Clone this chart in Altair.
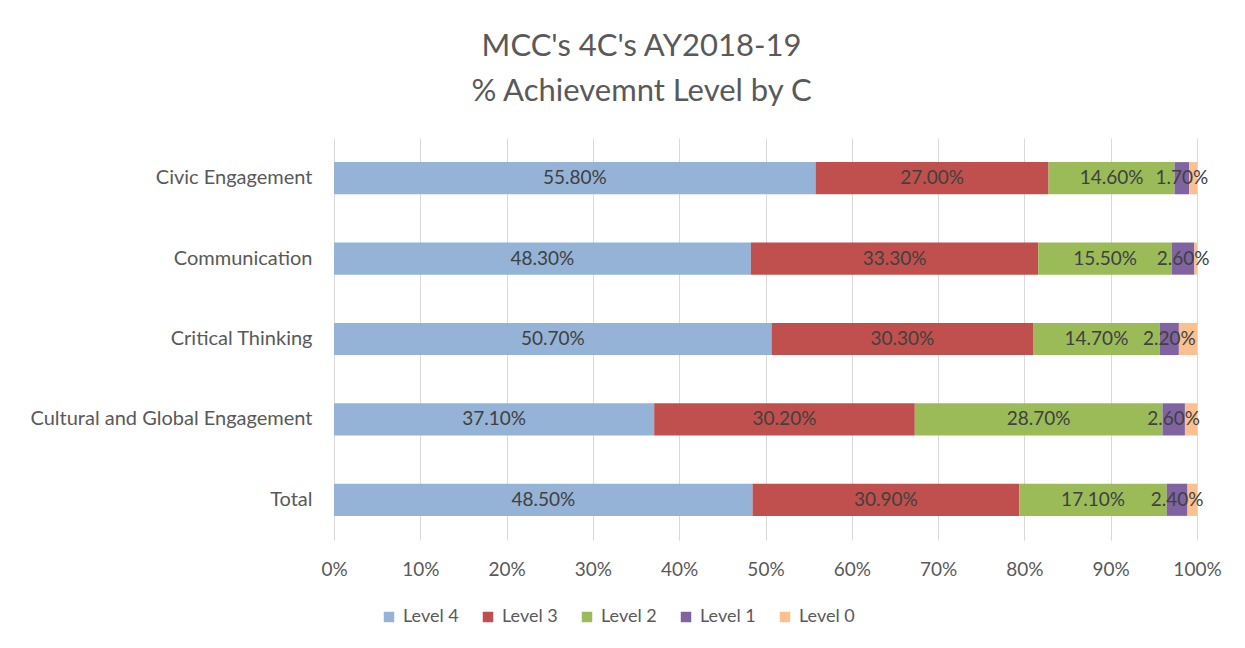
import altair as alt
import pandas as pd

categories = ["Civic Engagement", "Communication", "Critical Thinking",
              "Cultural and Global Engagement", "Total"]
levels = ["Level 4", "Level 3", "Level 2", "Level 1", "Level 0"]
level4 = [55.8, 48.3, 50.7, 37.1, 48.5]
level3 = [27.0, 33.3, 30.3, 30.2, 30.9]
level2 = [14.6, 15.5, 14.7, 28.7, 17.1]
level1 = [1.7, 2.6, 2.2, 2.6, 2.4]
level0 = [0.9, 0.3, 2.1, 1.4, 1.1]
colors = ["#95B3D7", "#C0504D", "#9BBB59", "#8064A2", "#FAC090"]

series = [level4, level3, level2, level1, level0]
rows = []
for li, (lvl, vals) in enumerate(zip(levels, series)):
    for cat, v in zip(categories, vals):
        rows.append({"category": cat, "level": lvl, "order": li,
                     "value": v / 100.0, "show": 1 if lvl != "Level 0" else 0})
df = pd.DataFrame(rows)

FONT = "Lato"

base = alt.Chart(df).transform_stack(
    stack="value", groupby=["category"], as_=["x0", "x1"],
    sort=[alt.SortField("order", order="ascending")]
)

y_enc = alt.Y("category:N", sort=categories, title=None,
              scale=alt.Scale(paddingInner=0.6, paddingOuter=0.3),
              axis=alt.Axis(labelFontSize=20, labelColor="#595959", labelFont=FONT,
                            labelLimit=400, ticks=False, domain=False,
                            labelPadding=22, grid=False))

bars = base.mark_bar().encode(
    x=alt.X("x0:Q", title=None,
            scale=alt.Scale(domain=[0, 1], nice=False),
            axis=alt.Axis(format=".0%", values=[i / 10 for i in range(11)],
                          labelFontSize=19, labelColor="#595959", labelFont=FONT,
                          labelFlush=False, ticks=False, domain=False, labelPadding=20,
                          grid=True, gridColor="#d9d9d9", gridWidth=1)),
    x2="x1:Q",
    y=y_enc,
    color=alt.Color("level:N", sort=levels,
                    scale=alt.Scale(domain=levels, range=colors),
                    legend=alt.Legend(title=None, orient="none", direction="horizontal",
                                      legendX=46, legendY=470, columns=5,
                                      symbolType="square", symbolSize=110,
                                      symbolStrokeWidth=0, columnPadding=20,
                                      labelFontSize=18, labelColor="#595959",
                                      labelFont=FONT, labelOffset=5)),
)

labels = base.transform_filter("datum.show == 1").transform_calculate(
    mid="(datum.x0 + datum.x1) / 2",
    lab="format(datum.value * 100, '.2f') + '%'"
).mark_text(fontSize=19, color="#404040", font=FONT).encode(
    x="mid:Q",
    y=alt.Y("category:N", sort=categories),
    text="lab:N",
)

chart = alt.layer(bars, labels).properties(
    width=863, height=402,
    autosize=alt.AutoSizeParams(type="none"),
    padding={"left": 326, "top": 130, "right": 40, "bottom": 100},
    title=alt.TitleParams(["MCC's 4C's AY2018-19", "% Achievemnt Level by C"],
                          anchor="middle", dx=-124, offset=30, fontSize=31,
                          lineHeight=45, font=FONT, fontWeight="normal",
                          color="#595959"),
).configure_view(stroke=None)

chart.save("out.html", embed_options={"renderer": "svg", "actions": False})
